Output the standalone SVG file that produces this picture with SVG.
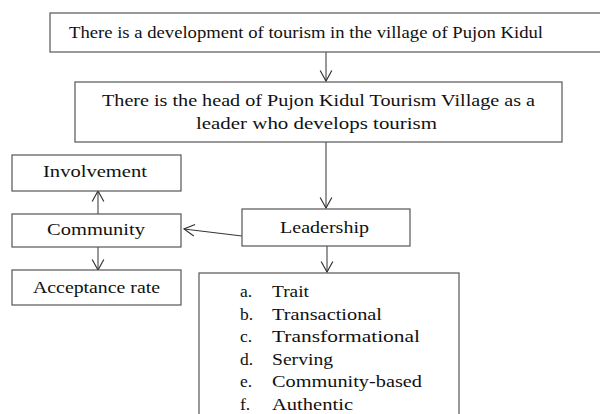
<svg xmlns="http://www.w3.org/2000/svg" width="600" height="414" viewBox="0 0 600 414">
  <defs>
    <marker id="open-arrow" markerUnits="userSpaceOnUse" markerWidth="14" markerHeight="14" viewBox="-10 -6 12 12" refX="0" refY="0" orient="auto">
      <path d="M-9,-5 L0,0 L-9,5" fill="none" stroke="#333" stroke-width="1"/>
    </marker>
  </defs>
  <style>
    .box { fill: #fff; stroke: #555; stroke-width: 1.2; }
    .txt { font-size: 17.5px; fill: #111; }
    .conn { stroke: #333; stroke-width: 1; fill: none; marker-end: url(#open-arrow); }
  </style>
  <rect width="600" height="414" fill="#fff"/>

  <g id="connectors">
    <line class="conn" x1="326" y1="52" x2="326" y2="81"/>
    <line class="conn" x1="326" y1="142" x2="326" y2="208"/>
    <line class="conn" x1="327" y1="246" x2="327" y2="272"/>
    <line class="conn" x1="242" y1="236" x2="184" y2="229"/>
    <line class="conn" x1="98" y1="214" x2="98" y2="191"/>
    <line class="conn" x1="98" y1="247" x2="98" y2="270"/>
  </g>

  <g font-family="'Liberation Serif', 'Times New Roman', serif">
    <g id="node-development">
      <rect class="box" x="50" y="13" width="560" height="39"/>
      <text class="txt" x="69" y="38" textLength="474" lengthAdjust="spacingAndGlyphs">There is a development of tourism in the village of Pujon Kidul</text>
    </g>

    <g id="node-head">
      <rect class="box" x="75" y="82" width="487" height="60"/>
      <text class="txt" x="102" y="106" textLength="433" lengthAdjust="spacingAndGlyphs">There is the head of Pujon Kidul Tourism Village as a</text>
      <text class="txt" x="196" y="129" textLength="241" lengthAdjust="spacingAndGlyphs">leader who develops tourism</text>
    </g>

    <g id="node-leadership">
      <rect class="box" x="242" y="209" width="168" height="37"/>
      <text class="txt" x="280" y="233" textLength="89" lengthAdjust="spacingAndGlyphs">Leadership</text>
    </g>

    <g id="node-involvement">
      <rect class="box" x="12" y="155" width="169" height="36"/>
      <text class="txt" x="43" y="177" textLength="104" lengthAdjust="spacingAndGlyphs">Involvement</text>
    </g>

    <g id="node-community">
      <rect class="box" x="12" y="214" width="169" height="33"/>
      <text class="txt" x="47" y="235" textLength="98" lengthAdjust="spacingAndGlyphs">Community</text>
    </g>

    <g id="node-acceptance">
      <rect class="box" x="12" y="270" width="169" height="35"/>
      <text class="txt" x="33" y="293" textLength="127" lengthAdjust="spacingAndGlyphs">Acceptance rate</text>
    </g>

    <g id="node-types">
      <rect class="box" x="199" y="273" width="260" height="160"/>
      <g class="txt">
        <text x="240" y="297">a.</text><text x="272" y="297" textLength="37" lengthAdjust="spacingAndGlyphs">Trait</text>
        <text x="240" y="320">b.</text><text x="272" y="320" textLength="110" lengthAdjust="spacingAndGlyphs">Transactional</text>
        <text x="240" y="342">c.</text><text x="272" y="342" textLength="148" lengthAdjust="spacingAndGlyphs">Transformational</text>
        <text x="240" y="365">d.</text><text x="272" y="365" textLength="61" lengthAdjust="spacingAndGlyphs">Serving</text>
        <text x="240" y="387">e.</text><text x="272" y="387" textLength="150" lengthAdjust="spacingAndGlyphs">Community-based</text>
        <text x="240" y="410">f.</text><text x="272" y="410" textLength="81" lengthAdjust="spacingAndGlyphs">Authentic</text>
      </g>
    </g>
  </g>
</svg>
